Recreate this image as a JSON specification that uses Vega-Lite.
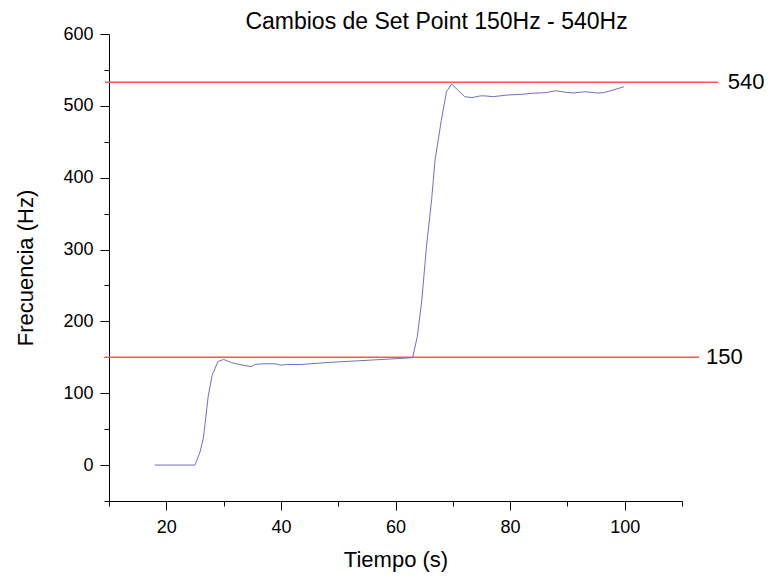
{
  "$schema": "https://vega.github.io/schema/vega-lite/v6.json",
  "autosize": "none",
  "width": 573,
  "height": 467,
  "padding": {"left": 109, "top": 34, "right": 90, "bottom": 75},
  "background": "white",
  "title": {
    "text": "Cambios de Set Point 150Hz - 540Hz",
    "font": "Liberation Sans",
    "fontSize": 23,
    "fontWeight": "normal",
    "color": "black",
    "anchor": "middle",
    "baseline": "alphabetic",
    "offset": 0,
    "dx": 41,
    "dy": 27
  },
  "config": {
    "view": {"stroke": null},
    "axis": {
      "grid": false,
      "domainColor": "black",
      "tickColor": "black",
      "labelColor": "black",
      "titleColor": "black",
      "labelFont": "Liberation Sans",
      "titleFont": "Liberation Sans",
      "labelFontSize": 18,
      "titleFontSize": 22,
      "titleFontWeight": "normal",
      "domainWidth": 1,
      "tickWidth": 1
    }
  },
  "datasets": {
    "signal": [
      {"t": 18.0, "f": 0},
      {"t": 25.0, "f": 0},
      {"t": 25.9, "f": 18.5},
      {"t": 26.5, "f": 39},
      {"t": 27.3, "f": 95},
      {"t": 28.0, "f": 125},
      {"t": 29.0, "f": 144},
      {"t": 30.0, "f": 147},
      {"t": 31.4, "f": 142.5},
      {"t": 33.4, "f": 139},
      {"t": 34.8, "f": 137},
      {"t": 35.5, "f": 140},
      {"t": 36.9, "f": 141},
      {"t": 39.0, "f": 141},
      {"t": 40.0, "f": 139},
      {"t": 41.0, "f": 140},
      {"t": 43.3, "f": 140},
      {"t": 44.5, "f": 140.6},
      {"t": 48.6, "f": 143},
      {"t": 53.2, "f": 145},
      {"t": 59.0, "f": 147.6},
      {"t": 62.8, "f": 149.4},
      {"t": 63.0, "f": 150},
      {"t": 63.8, "f": 178.6},
      {"t": 64.6, "f": 229.7},
      {"t": 65.4, "f": 304},
      {"t": 66.3, "f": 369},
      {"t": 66.9, "f": 424.6},
      {"t": 68.0, "f": 480},
      {"t": 68.9, "f": 519.7},
      {"t": 69.8, "f": 530.4},
      {"t": 71.0, "f": 521},
      {"t": 72.1, "f": 512.8},
      {"t": 73.3, "f": 511.4},
      {"t": 74.7, "f": 513.7},
      {"t": 75.3, "f": 514},
      {"t": 77.1, "f": 512.8},
      {"t": 79.4, "f": 515},
      {"t": 82.0, "f": 516},
      {"t": 83.8, "f": 517.5},
      {"t": 86.1, "f": 518.3},
      {"t": 88.0, "f": 521},
      {"t": 89.3, "f": 519.3},
      {"t": 91.0, "f": 517.9},
      {"t": 93.1, "f": 519.7},
      {"t": 95.1, "f": 517.9},
      {"t": 96.3, "f": 518.3},
      {"t": 98.0, "f": 522},
      {"t": 99.9, "f": 526.7}
    ],
    "setpoints": [
      {"x1": 9.3, "x2": 113.0, "y": 150, "label": "150", "xl": 114.2},
      {"x1": 9.3, "x2": 116.3, "y": 533, "label": "540", "xl": 118.0}
    ]
  },
  "layer": [
    {
      "data": {"name": "setpoints"},
      "mark": {"type": "rule", "color": "#ff5555", "strokeWidth": 1.5, "clip": false},
      "encoding": {
        "x": {
          "field": "x1",
          "type": "quantitative",
          "scale": {"domain": [10, 110], "nice": false, "zero": false},
          "axis": {
            "title": "Tiempo (s)",
            "values": [10, 20, 30, 40, 50, 60, 70, 80, 90, 100, 110],
            "tickCount": 30,
            "labelExpr": "(datum.value % 20 == 0 && datum.value >= 20 && datum.value <= 100) ? datum.label : ''",
            "tickSize": {"condition": {"test": "datum.value % 20 == 0 && datum.value >= 20 && datum.value <= 100", "value": 9}, "value": 5},
            "labelPadding": 8,
            "titlePadding": 13
          }
        },
        "x2": {"field": "x2"},
        "y": {
          "field": "y",
          "type": "quantitative",
          "scale": {"domain": [-50, 600], "nice": false, "zero": false},
          "axis": {
            "title": "Frecuencia (Hz)",
            "values": [-50, 0, 50, 100, 150, 200, 250, 300, 350, 400, 450, 500, 550, 600],
            "tickCount": 30,
            "labelExpr": "(datum.value % 100 == 0 && datum.value >= 0) ? datum.label : ''",
            "tickSize": {"condition": {"test": "datum.value % 100 == 0 && datum.value >= 0", "value": 9}, "value": 5},
            "labelPadding": 7,
            "titlePadding": 25
          }
        }
      }
    },
    {
      "data": {"name": "setpoints"},
      "mark": {"type": "text", "align": "left", "baseline": "middle", "font": "Liberation Sans", "fontSize": 22, "color": "black", "clip": false},
      "encoding": {
        "x": {"field": "xl", "type": "quantitative"},
        "y": {"field": "y", "type": "quantitative"},
        "text": {"field": "label"}
      }
    },
    {
      "data": {"name": "signal"},
      "mark": {"type": "line", "color": "#6f6fc8", "strokeWidth": 1, "interpolate": "linear"},
      "encoding": {
        "x": {"field": "t", "type": "quantitative"},
        "y": {"field": "f", "type": "quantitative"}
      }
    }
  ]
}
